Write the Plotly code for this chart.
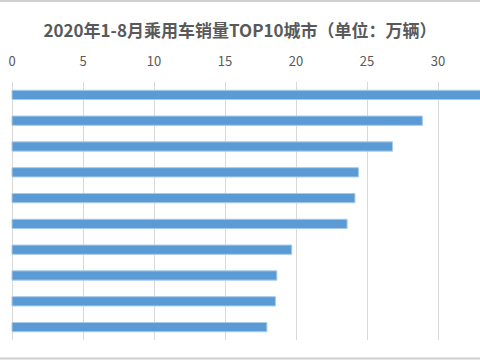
import plotly.graph_objects as go

cities = ["成都", "上海", "重庆", "郑州", "苏州", "杭州", "广州", "深圳", "西安", "北京"]
sales = [33.8, 28.9, 26.8, 24.4, 24.15, 23.6, 19.7, 18.65, 18.55, 17.95]
ticks = [0, 5, 10, 15, 20, 25, 30]

W, H = 480, 360
L, R, T, B = 0, 0, 82, 20
plot_h = H - T - B

fig = go.Figure(go.Bar(
    y=cities, x=sales, orientation="h",
    marker=dict(color="#5B9BD5", line=dict(color="#A9CBEA", width=1)),
    width=0.36,
))

fig.update_layout(
    width=W, height=H,
    margin=dict(l=L, r=R, t=T, b=B),
    paper_bgcolor="white", plot_bgcolor="white",
    showlegend=False,
    title=dict(
        text="<b>2020年1-8月乘用车销量TOP10城市（单位：万辆）</b>",
        x=0.5, xanchor="center", y=1 - 31 / H, yanchor="middle",
        font=dict(family="Noto Sans CJK SC", size=17, color="#595959"),
    ),
    xaxis=dict(
        side="top", range=[-12 / 14.2, (480 - 12) / 14.2],
        tickvals=ticks, ticktext=[str(t) for t in ticks],
        showgrid=True, gridcolor="#D9D9D9", gridwidth=1,
        zeroline=True, zerolinecolor="#D9D9D9", zerolinewidth=1,
        showline=False, ticks="", ticklabelstandoff=12,
        tickfont=dict(family="Noto Sans CJK SC", size=13, color="#595959"),
        fixedrange=True,
    ),
    yaxis=dict(
        autorange="reversed", showticklabels=False, showgrid=False,
        zeroline=False, showline=False, ticks="", fixedrange=True,
    ),
    font=dict(family="Noto Sans CJK SC"),
    shapes=[
        dict(type="line", xref="paper", yref="paper", x0=0, x1=1,
             y0=(H - B - 1) / plot_h, y1=(H - B - 1) / plot_h,
             line=dict(color="#D0D0D0", width=2)),
        dict(type="line", xref="paper", yref="paper", x0=0, x1=1,
             y0=-(B - 1.5) / plot_h, y1=-(B - 1.5) / plot_h,
             line=dict(color="#D0D0D0", width=2)),
    ],
)

fig.write_html(
    "out.html",
    config={"displayModeBar": False},
    post_script="document.body.style.margin='0';document.body.style.overflow='hidden';",
)
